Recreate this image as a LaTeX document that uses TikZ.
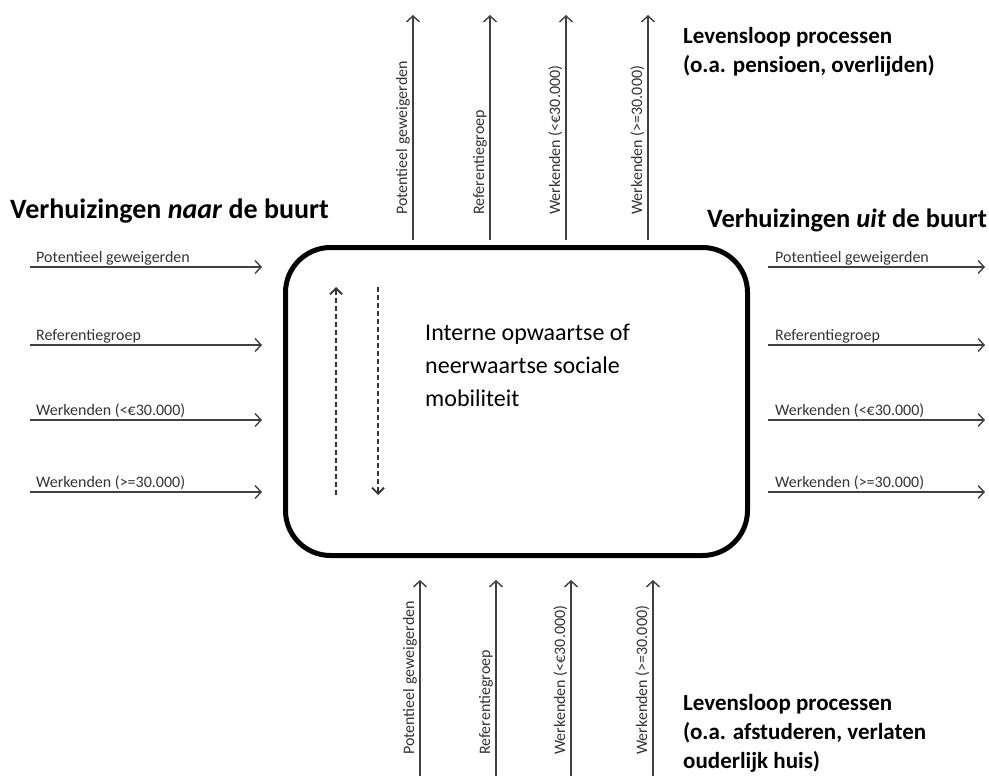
\documentclass[tikz,border=0pt]{standalone}
\usepackage{fontspec}
\setmainfont{Carlito}
\usetikzlibrary{arrows.meta}
\begin{document}
\begin{tikzpicture}[x=1pt,y=-1pt,
  flow/.style={line width=1.4pt, draw=black!75, -{Straight Barb[length=6pt,width=13pt,line width=1.4pt]}},
  dflow/.style={line width=1.8pt, draw=black!80, dash pattern=on 5pt off 3pt, -{Straight Barb[length=6pt,width=12pt,line width=1.8pt]}},
  lbl/.style={font=\fontsize{16}{19}\selectfont, inner sep=0pt, text=black!80, anchor=base west},
  vlbl/.style={lbl, rotate=90},
  head/.style={font=\bfseries\fontsize{28}{34}\selectfont, inner sep=0pt, anchor=base west},
  life/.style={font=\bfseries\fontsize{23}{29}\selectfont, inner sep=0pt, anchor=base west, align=left},
  mainbox/.style={draw, line width=5pt, rounded corners=45pt, inner sep=0pt}]
\useasboundingbox (0,0) rectangle (989,776);

% central box
\node[mainbox, minimum width=462pt, minimum height=308pt, anchor=north west] (box) at (283,245) {};
\node[font=\fontsize{24}{33}\selectfont, inner sep=0pt, anchor=base west, align=left] (mob) at (425,406) {Interne opwaartse of\\neerwaartse sociale\\mobiliteit};

% dashed internal arrows
\coordinate (ua) at (336,495); \coordinate (ub) at (336,287);
\coordinate (da) at (378,287); \coordinate (db) at (378,495);
\draw[dflow] (ua) -- (ub);
\draw[dflow] (da) -- (db);

% headings
\node[head] (hin) at (10,218) {Verhuizingen \textit{naar} de buurt};
\node[head, font=\bfseries\fontsize{26.5}{32}\selectfont] (hout) at (707,227) {Verhuizingen \textit{uit} de buurt};
\node[life] (ltop) at (683,73) {Levensloop processen\\(o.a. pensioen, overlijden)};
\node[life] (lbot) at (683,768) {Levensloop processen\\(o.a. afstuderen, verlaten\\ouderlijk huis)};

% left and right arrows
\foreach \y/\t [count=\i] in {267/Potentieel geweigerden, 345/Referentiegroep, 420/Werkenden (<€30.000), 492/Werkenden (>=30.000)}{
  \coordinate (ls\i) at (30,\y); \coordinate (le\i) at (262,\y);
  \draw[flow] (ls\i) -- (le\i);
  \node[lbl] (lt\i) at (36,\y-5) {\t};
  \coordinate (rs\i) at (768,\y); \coordinate (re\i) at (985,\y);
  \draw[flow] (rs\i) -- (re\i);
  \node[lbl] (rt\i) at (775,\y-5) {\t};
}

% top arrows
\foreach \x/\t [count=\i] in {413/Potentieel geweigerden, 490/Referentiegroep, 566/Werkenden (<€30.000), 648/Werkenden (>=30.000)}{
  \coordinate (ts\i) at (\x,240); \coordinate (te\i) at (\x,15);
  \draw[flow] (ts\i) -- (te\i);
  \node[vlbl] (tt\i) at (\x-6,215) {\t};
}

% bottom arrows
\foreach \x/\t [count=\i] in {420/Potentieel geweigerden, 496/Referentiegroep, 571/Werkenden (<€30.000), 653/Werkenden (>=30.000)}{
  \coordinate (bs\i) at (\x,776); \coordinate (be\i) at (\x,580);
  \draw[flow] (bs\i) -- (be\i);
  \node[vlbl] (bt\i) at (\x-6,755) {\t};
}
\end{tikzpicture}
\end{document}
